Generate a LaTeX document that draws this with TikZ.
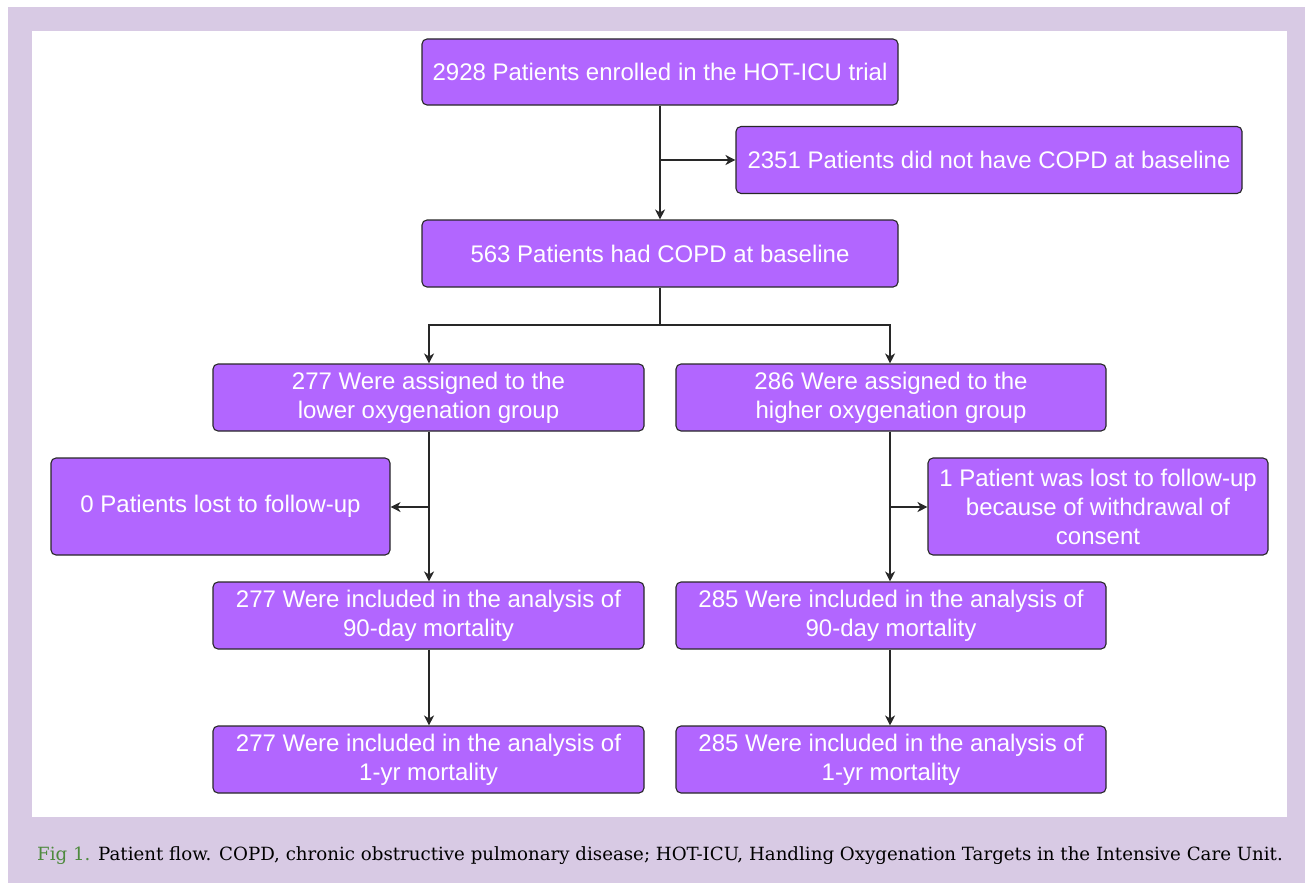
\documentclass[tikz,border=0pt]{standalone}
\usepackage{fontspec}
\setmainfont{Liberation Sans}
\newfontfamily\capfont{DejaVu Serif}
\usetikzlibrary{arrows.meta}
\definecolor{boxfill}{RGB}{178,102,255}
\definecolor{bgl}{RGB}{216,202,228}
\definecolor{figgreen}{RGB}{78,138,62}
\definecolor{edge}{RGB}{40,40,40}
\begin{document}
\begin{tikzpicture}[x=1pt,y=-1pt,
  fbox/.style={draw=edge,line width=1.1pt,fill=boxfill,rounded corners=5pt,text=white,align=center,
    font=\fontsize{24}{29}\selectfont,inner sep=0pt},
  conn/.style={draw=edge,line width=1.1pt},
  arr/.style={conn,-{Stealth[length=10pt,width=10pt,inset=3pt]}}]
\useasboundingbox (0,0) rectangle (1305,883);
\fill[white] (0,0) rectangle (1305,883);
\fill[bgl] (8,7) rectangle (1305,883);
\fill[white] (32,31) rectangle (1287,817);
% boxes
\node[fbox,minimum width=476pt,minimum height=66pt] (b1) at (660,72) {2928 Patients enrolled in the HOT-ICU trial};
\node[fbox,minimum width=506pt,minimum height=67pt] (b2) at (989,160) {2351 Patients did not have COPD at baseline};
\node[fbox,minimum width=476pt,minimum height=67pt] (b3) at (660,253.5) {563 Patients had COPD at baseline};
\node[fbox,minimum width=431pt,minimum height=67pt] (b4) at (428.5,397.5) {277 Were assigned to the\\lower oxygenation group};
\node[fbox,minimum width=430pt,minimum height=67pt] (b5) at (891,397.5) {286 Were assigned to the\\higher oxygenation group};
\node[fbox,minimum width=339pt,minimum height=97pt] (b6) at (220.5,506.5) {0 Patients lost to follow-up};
\node[fbox,minimum width=340pt,minimum height=97pt] (b7) at (1098,506.5) {1 Patient was lost to follow-up\\because of withdrawal of\\consent};
\node[fbox,minimum width=431pt,minimum height=67pt] (b8) at (428.5,615.5) {277 Were included in the analysis of\\90-day mortality};
\node[fbox,minimum width=430pt,minimum height=67pt] (b9) at (891,615.5) {285 Were included in the analysis of\\90-day mortality};
\node[fbox,minimum width=431pt,minimum height=67pt] (b10) at (428.5,759.5) {277 Were included in the analysis of\\1-yr mortality};
\node[fbox,minimum width=430pt,minimum height=67pt] (b11) at (891,759.5) {285 Were included in the analysis of\\1-yr mortality};
% connectors
\coordinate (j1) at (660,160);
\coordinate (j2) at (660,325);
\coordinate (j3) at (429,507);
\coordinate (j4) at (890,507);
\draw[arr] (b1.south) -- (b3.north);
\draw[arr] (j1) -- (j1-|b2.west);
\draw[conn] (b3.south) -- (j2);
\draw[arr] (j2) -| (b4.north-|j3);
\draw[arr] (j2) -| (b5.north-|j4);
\draw[arr] (b4.south-|j3) -- (b8.north-|j3);
\draw[arr] (j3) -- (j3-|b6.east);
\draw[arr] (b5.south-|j4) -- (b9.north-|j4);
\draw[arr] (j4) -- (j4-|b7.west);
\draw[arr] (b8.south-|j3) -- (b10.north-|j3);
\draw[arr] (b9.south-|j4) -- (b11.north-|j4);
% caption
\node[anchor=base west,inner sep=0pt,font=\capfont\fontsize{18.2}{20}\selectfont] (cap) at (37,860)
  {\textcolor{figgreen}{Fig 1.} Patient flow. COPD, chronic obstructive pulmonary disease; HOT-ICU, Handling Oxygenation Targets in the Intensive Care Unit.};
\end{tikzpicture}
\end{document}
